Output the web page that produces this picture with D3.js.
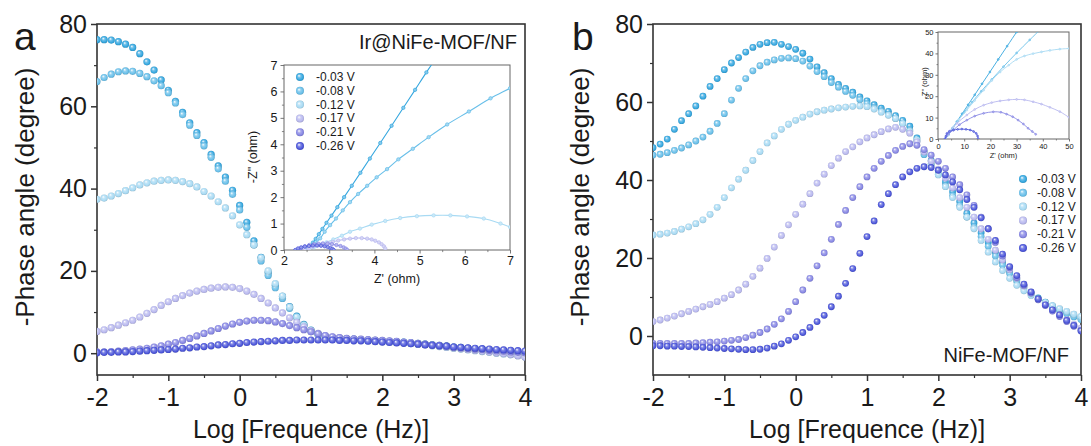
<!DOCTYPE html>
<html>
<head>
<meta charset="utf-8">
<script src="https://cdn.jsdelivr.net/npm/d3@7"></script>
<style>
  body { margin: 0; background: #fff; }
  text { font-family: "Liberation Sans", Arial, sans-serif; fill: #1a1a1a; }
</style>
</head>
<body>
<svg id="chart" width="1091" height="446"></svg>
<script>
// log10 frequency grid (Hz)
var logF = [-2.0,-1.9,-1.8,-1.7,-1.6,-1.5,-1.4,-1.3,-1.2,-1.1,
  -1.0,-0.9,-0.8,-0.7,-0.6,-0.5,-0.4,-0.3,-0.2,-0.1,
  0.0,0.1,0.2,0.3,0.4,0.5,0.6,0.7,0.8,0.9,
  1.0,1.1,1.2,1.3,1.4,1.5,1.6,1.7,1.8,1.9,
  2.0,2.1,2.2,2.3,2.4,2.5,2.6,2.7,2.8,2.9,
  3.0,3.1,3.2,3.3,3.4,3.5,3.6,3.7,3.8,3.9,4.0];

var voltages = ["-0.03 V", "-0.08 V", "-0.12 V", "-0.17 V", "-0.21 V", "-0.26 V"];

// panel a : Ir@NiFe-MOF/NF, -phase angle
var phaseA_003 = [76.2,76.2,76.1,75.7,75.1,74.3,72.8,70.8,68.8,66.4, 63.9,61.2,58.5,56.0,53.6,51.2,48.3,45.5,42.8,39.6, 35.9,31.8,27.3,23.3,19.6,16.5,13.8,11.3,9.0,7.0, 5.6,4.7,4.1,3.8,3.6,3.5,3.4,3.3,3.2,3.1, 3.0,2.9,2.8,2.7,2.5,2.4,2.2,2.0,1.9,1.7, 1.5,1.4,1.2,1.1,1.0,0.8,0.7,0.5,0.4,0.2,0.1];
var phaseA_008 = [66.0,67.0,67.8,68.4,68.6,68.5,68.0,67.2,66.2,65.0, 63.3,60.8,58.0,55.4,52.9,50.4,47.6,44.8,41.8,38.6, 34.8,30.6,26.3,22.4,18.9,15.9,13.3,10.9,8.7,6.8, 5.4,4.5,4.0,3.7,3.5,3.4,3.3,3.2,3.1,3.0, 2.9,2.8,2.7,2.6,2.5,2.3,2.2,2.0,1.8,1.7, 1.5,1.3,1.2,1.0,0.9,0.7,0.6,0.4,0.3,0.1,0.0];
var phaseA_012 = [37.4,37.7,38.2,38.8,39.5,40.2,40.9,41.4,41.8,42.0, 42.1,42.0,41.7,41.2,40.4,39.3,38.2,36.8,35.3,33.4, 31.2,28.8,26.3,23.2,20.0,16.9,13.9,11.2,8.8,6.8, 5.3,4.4,3.9,3.6,3.4,3.3,3.2,3.1,3.0,2.9, 2.8,2.7,2.6,2.5,2.3,2.2,2.0,1.8,1.6,1.4, 1.2,1.0,0.8,0.6,0.4,0.2,0.0,-0.2,-0.4,-0.6,-0.9];
var phaseA_017 = [5.3,5.7,6.2,6.8,7.4,8.0,8.8,9.7,10.6,11.6, 12.5,13.3,14.0,14.6,15.1,15.5,15.8,16.0,16.1,16.0, 15.7,15.1,14.3,13.3,12.2,11.0,9.8,8.6,7.5,6.4, 5.5,4.8,4.3,3.9,3.7,3.5,3.4,3.3,3.2,3.1, 3.0,2.9,2.8,2.6,2.5,2.3,2.1,1.9,1.7,1.5, 1.3,1.1,0.9,0.7,0.5,0.3,0.1,-0.1,-0.3,-0.6,-0.9];
var phaseA_021 = [0.3,0.3,0.4,0.5,0.6,0.8,1.0,1.2,1.5,1.8, 2.2,2.6,3.1,3.6,4.2,4.8,5.4,6.0,6.6,7.1, 7.5,7.8,8.0,8.0,7.9,7.6,7.2,6.7,6.2,5.7, 5.2,4.7,4.3,4.0,3.8,3.6,3.5,3.4,3.3,3.2, 3.1,3.0,2.9,2.7,2.6,2.4,2.2,2.0,1.9,1.7, 1.5,1.3,1.2,1.0,0.9,0.7,0.6,0.5,0.3,0.2,0.1];
var phaseA_026 = [0.1,0.2,0.2,0.3,0.3,0.4,0.5,0.6,0.7,0.8, 0.9,1.0,1.2,1.3,1.5,1.6,1.8,2.0,2.1,2.3, 2.4,2.6,2.7,2.8,2.9,3.0,3.1,3.1,3.2,3.2, 3.2,3.2,3.2,3.2,3.1,3.1,3.0,3.0,2.9,2.8, 2.7,2.6,2.5,2.4,2.3,2.2,2.0,1.9,1.8,1.7, 1.5,1.4,1.3,1.2,1.1,1.0,0.9,0.8,0.7,0.6,0.5];

// panel b : NiFe-MOF/NF, -phase angle
var phaseB_003 = [48.3,49.2,50.5,53.0,55.2,57.0,59.0,61.5,64.0,66.0, 68.3,70.0,71.4,72.8,74.0,74.8,75.2,75.3,74.8,74.2, 73.5,72.5,71.0,69.0,67.5,66.0,64.5,63.5,62.5,61.3, 60.3,59.3,58.4,57.6,56.5,55.3,53.8,50.8,47.3,45.0, 42.5,39.5,37.0,34.5,31.5,29.0,26.5,24.0,21.5,19.0, 16.5,14.5,12.8,11.2,9.8,8.7,7.7,6.8,6.0,5.2,4.5];
var phaseB_008 = [46.4,46.6,47.0,47.6,48.2,49.0,50.0,51.0,52.5,54.5, 57.0,60.5,63.5,66.0,68.0,69.3,70.2,70.8,71.2,71.3, 71.1,70.5,69.2,67.8,66.5,65.0,63.8,62.7,61.7,60.6, 59.6,58.6,57.7,56.8,55.8,54.5,52.8,50.0,46.5,44.0, 41.5,38.5,36.0,33.5,30.5,28.0,25.5,23.0,20.5,18.2, 16.0,14.0,12.3,10.8,9.5,8.4,7.4,6.5,5.7,4.9,4.2];
var phaseB_012 = [25.9,26.1,26.4,26.8,27.4,28.0,28.8,29.8,31.2,33.0, 35.5,38.0,40.2,42.5,45.0,47.3,49.5,51.3,53.0,54.3, 55.3,56.1,56.9,57.5,57.9,58.2,58.5,58.7,58.9,59.0, 58.8,58.2,57.4,56.6,55.8,54.5,52.5,50.3,47.3,44.2, 41.3,38.3,35.5,33.0,30.5,27.5,24.5,21.5,19.0,16.8, 14.8,13.0,11.6,10.4,9.5,8.6,7.8,7.0,6.3,5.6,5.0];
var phaseB_017 = [3.7,4.1,4.6,5.1,5.7,6.3,6.9,7.5,8.1,8.8, 9.7,10.6,11.8,13.3,15.3,17.4,19.9,22.8,25.8,28.5, 31.2,33.8,36.5,39.2,41.5,43.7,45.6,47.3,48.5,49.8, 50.8,51.6,52.4,53.1,53.5,53.0,52.0,49.8,47.2,44.8, 42.8,40.5,38.0,35.5,33.0,30.5,27.5,24.8,22.0,19.5, 17.0,14.8,12.8,11.0,9.4,8.0,6.6,5.4,4.2,3.0,2.0];
var phaseB_021 = [-1.9,-1.9,-1.9,-1.9,-1.9,-1.9,-1.8,-1.7,-1.6,-1.5, -1.3,-1.1,-0.9,-0.4,0.2,0.9,1.8,3.0,4.4,6.3, 8.8,11.8,14.8,18.0,21.3,24.8,28.6,32.2,35.5,38.3, 40.8,43.0,44.8,46.3,47.6,48.6,49.3,48.9,47.8,46.4, 44.8,43.0,40.8,38.8,36.2,33.5,30.5,27.5,24.0,20.5, 17.5,15.0,13.0,11.0,9.3,7.8,6.4,5.0,3.7,2.5,1.5];
var phaseB_026 = [-2.5,-2.5,-2.6,-2.6,-2.7,-2.7,-2.8,-2.9,-3.0,-3.1, -3.2,-3.3,-3.4,-3.5,-3.5,-3.4,-3.1,-2.6,-2.0,-1.1, -0.2,0.9,2.2,3.7,5.3,7.5,10.2,13.5,17.3,21.2, 25.5,29.5,33.7,36.5,38.8,40.8,42.1,43.0,43.4,43.2, 42.5,41.3,39.5,37.5,35.0,33.0,30.3,27.5,24.5,21.0, 17.8,15.5,13.3,11.3,9.5,8.0,6.7,5.4,4.0,2.7,1.3];

// inset a : Nyquist, Z' and -Z'' (ohm)
var nyqA_re = [
  [2.52,2.58,2.64,2.70,2.77,2.85,2.94,3.05,3.18,3.33,3.50,3.69,3.90,4.13,4.38,4.64,4.90,5.15,5.42],
  [2.57,2.68,2.80,2.90,3.02,3.15,3.30,3.46,3.64,3.84,4.05,4.28,4.53,4.85,5.20,5.61,6.09,6.57,7.00,7.30],
  [2.55,2.66,2.80,2.94,3.09,3.28,3.46,3.68,3.94,4.24,4.57,4.94,5.31,5.68,6.05,6.42,6.79,7.00,7.20],
  [2.46,2.55,2.64,2.75,2.86,2.97,3.08,3.20,3.33,3.46,3.59,3.72,3.84,3.94,4.02,4.10,4.16,4.21,4.24],
  [2.30,2.38,2.46,2.56,2.66,2.76,2.86,2.96,3.06,3.16,3.25,3.32,3.37,3.40],
  [2.25,2.31,2.38,2.46,2.55,2.64,2.73,2.82,2.90,2.97,3.03,3.07,3.10]
];
var nyqA_im = [
  [0.05,0.15,0.28,0.42,0.60,0.80,1.03,1.30,1.62,2.00,2.43,2.92,3.46,4.05,4.70,5.38,6.06,6.72,7.40],
  [0.12,0.25,0.44,0.69,0.94,1.19,1.50,1.81,2.12,2.43,2.75,3.06,3.43,3.83,4.27,4.75,5.24,5.74,6.12,6.40],
  [0.03,0.10,0.19,0.29,0.40,0.54,0.69,0.81,0.96,1.10,1.21,1.28,1.31,1.31,1.27,1.19,1.00,0.87,0.72],
  [0.00,0.07,0.12,0.17,0.22,0.27,0.31,0.36,0.40,0.43,0.45,0.45,0.43,0.40,0.35,0.29,0.22,0.14,0.06],
  [0.00,0.08,0.14,0.19,0.22,0.24,0.25,0.24,0.22,0.19,0.15,0.10,0.05,0.00],
  [0.00,0.06,0.10,0.13,0.15,0.17,0.17,0.16,0.14,0.11,0.07,0.04,0.00]
];

// inset b : Nyquist, Z' and -Z'' (ohm)
var nyqB_re = [
  [2.8,4,5.5,7.2,9.2,11.5,14,16.8,19.8,23,26.4,30,31],
  [2.8,4,5.5,7.5,10,13,16.5,20.5,25,30,35,38.5],
  [2.8,4,5.9,8,11,14,17.4,20.5,23.7,27,30,33,36.3,39.5,42.7,46.5,50],
  [2.8,4.5,7.2,11,14,17.4,20.5,23.7,27,30,33,36.3,39.5,42.7,46.5,50],
  [2.8,4,5.9,8.2,11,14,17.4,21.1,24,26.2,28.5,30.6,32.6,34.4,36,37.3],
  [2.6,3,3.4,4.3,5.9,7.5,9.1,10.7,12.3,13.6,14.6,15.1,15.3]
];
var nyqB_im = [
  [0,2.2,5,8.1,11.8,16,20.6,25.8,31.3,37.2,43.4,50,51.9],
  [0,2.1,4.8,8.3,12.5,17.2,22.3,27.8,33.8,40.2,46.3,50.5],
  [0,1.8,5.7,9.2,13.5,18,22.8,27.3,31.3,34.5,37.2,38.8,39.9,40.7,41.4,42,42.3],
  [0,3.8,7.3,11.2,13.8,15.8,17,17.8,18.3,18.5,18.3,17.4,16.3,14.8,12.8,10.1],
  [0,2.3,4.2,6.7,8.8,10.7,12,12.7,12.5,11.6,10.4,8.8,7,5,3.5,2.2],
  [0,1.3,2.6,3.5,4.2,4.5,4.65,4.5,4.2,3.5,2.6,1.4,0.2]
];

var colors = ["#35a7df", "#68bfe9", "#a8daf3", "#b9b9ef", "#8787e4", "#4c56da"];

var svg = d3.select("#chart");
var defs = svg.append("defs");

// shaded ball markers
colors.forEach(function(c, i) {
  var g = defs.append("radialGradient").attr("id", "ball" + i)
    .attr("cx", "50%").attr("cy", "50%").attr("r", "55%")
    .attr("fx", "36%").attr("fy", "32%");
  g.append("stop").attr("offset", "0%").attr("stop-color", "#ffffff");
  g.append("stop").attr("offset", "35%").attr("stop-color", d3.interpolateRgb(c, "#fff")(0.3));
  g.append("stop").attr("offset", "75%").attr("stop-color", c);
  g.append("stop").attr("offset", "100%").attr("stop-color", d3.color(c).darker(0.6));
});

function styleAxis(sel, col, w) {
  sel.select(".domain").remove();
  sel.selectAll(".tick line").attr("stroke", col).attr("stroke-width", w);
  sel.selectAll("text").style("fill", "#1a1a1a");
}

function drawPanel(p) {
  var x = d3.scaleLinear().domain([-2, 4]).range([p.left, p.right]);
  var y = d3.scaleLinear().domain(p.yDomain).range([p.bottom, p.top]);
  var g = svg.append("g");

  defs.append("clipPath").attr("id", "clip" + p.id).append("rect")
    .attr("x", p.left).attr("y", p.top)
    .attr("width", p.right - p.left).attr("height", p.bottom - p.top);

  // ticks
  var xa = g.append("g").attr("transform", "translate(0," + p.bottom + ")")
    .call(d3.axisBottom(x).tickValues([-2, -1, 0, 1, 2, 3, 4]).tickSize(6).tickPadding(7)
      .tickFormat(function(d) { return String(d); }));
  xa.selectAll("text").attr("font-size", 25).attr("font-family", "Liberation Sans, Arial, sans-serif");
  styleAxis(xa, "#333", 1.5);
  var xm = g.append("g").attr("transform", "translate(0," + p.bottom + ")")
    .call(d3.axisBottom(x).tickValues([-1.5, -0.5, 0.5, 1.5, 2.5, 3.5]).tickSize(3).tickFormat(""));
  styleAxis(xm, "#333", 1.2);

  var ya = g.append("g").attr("transform", "translate(" + p.left + ",0)")
    .call(d3.axisLeft(y).tickValues([0, 20, 40, 60, 80]).tickSize(6).tickPadding(4)
      .tickFormat(function(d) { return String(d); }));
  ya.selectAll("text").attr("font-size", 25).attr("font-family", "Liberation Sans, Arial, sans-serif");
  styleAxis(ya, "#333", 1.5);
  var ym = g.append("g").attr("transform", "translate(" + p.left + ",0)")
    .call(d3.axisLeft(y).tickValues([10, 30, 50, 70]).tickSize(3).tickFormat(""));
  styleAxis(ym, "#333", 1.2);

  // frame
  g.append("rect").attr("x", p.left).attr("y", p.top)
    .attr("width", p.right - p.left).attr("height", p.bottom - p.top)
    .attr("fill", "none").attr("stroke", "#333").attr("stroke-width", 1.6);

  // data balls
  var pts = g.append("g").attr("clip-path", "url(#clip" + p.id + ")");
  p.series.forEach(function(vals, i) {
    pts.append("g").selectAll("circle").data(vals).join("circle")
      .attr("cx", function(d, j) { return x(logF[j]); })
      .attr("cy", function(d) { return y(d); })
      .attr("r", p.r)
      .attr("fill", "url(#ball" + i + ")");
  });

  // titles
  g.append("text").attr("x", (p.left + p.right) / 2).attr("y", 438)
    .attr("text-anchor", "middle").attr("font-size", 25)
    .text("Log [Frequence (Hz)]");
  g.append("text").attr("transform", "translate(" + p.yTitleX + ",197) rotate(-90)")
    .attr("text-anchor", "middle").attr("dominant-baseline", "central").attr("font-size", 26)
    .text("-Phase angle (degree)");
  g.append("text").attr("x", p.letterX).attr("y", 50).attr("font-size", 39).text(p.letter);
  g.append("text").attr("x", p.nameX).attr("y", p.nameY).attr("text-anchor", "end")
    .attr("font-size", 20).text(p.name);
}

function drawInset(q) {
  var x = d3.scaleLinear().domain(q.xDomain).range([q.left, q.right]);
  var y = d3.scaleLinear().domain(q.yDomain).range([q.bottom, q.top]);
  var g = svg.append("g");
  defs.append("clipPath").attr("id", "iclip" + q.id).append("rect")
    .attr("x", q.left).attr("y", q.top)
    .attr("width", q.right - q.left).attr("height", q.bottom - q.top);

  var xa = g.append("g").attr("transform", "translate(0," + q.bottom + ")")
    .call(d3.axisBottom(x).tickValues(q.xTicks).tickSize(q.tick).tickPadding(q.pad)
      .tickFormat(function(d) { return String(d); }));
  xa.selectAll("text").attr("font-size", q.fs).attr("font-family", "Liberation Sans, Arial, sans-serif");
  styleAxis(xa, "#555", 0.8);
  var ya = g.append("g").attr("transform", "translate(" + q.left + ",0)")
    .call(d3.axisLeft(y).tickValues(q.yTicks).tickSize(q.tick).tickPadding(q.pad)
      .tickFormat(function(d) { return String(d); }));
  ya.selectAll("text").attr("font-size", q.fs).attr("font-family", "Liberation Sans, Arial, sans-serif");
  styleAxis(ya, "#555", 0.8);
  var xm = g.append("g").attr("transform", "translate(0," + q.bottom + ")")
    .call(d3.axisBottom(x).tickValues(q.xMinor).tickSize(q.tick * 0.6).tickFormat(""));
  styleAxis(xm, "#555", 0.7);
  var ym = g.append("g").attr("transform", "translate(" + q.left + ",0)")
    .call(d3.axisLeft(y).tickValues(q.yMinor).tickSize(q.tick * 0.6).tickFormat(""));
  styleAxis(ym, "#555", 0.7);

  g.append("rect").attr("x", q.left).attr("y", q.top)
    .attr("width", q.right - q.left).attr("height", q.bottom - q.top)
    .attr("fill", "none").attr("stroke", "#666").attr("stroke-width", 1);

  var line = d3.line().curve(d3.curveCatmullRom)
    .x(function(d) { return x(d[0]); }).y(function(d) { return y(d[1]); });
  var pg = g.append("g").attr("clip-path", "url(#iclip" + q.id + ")");
  q.re.forEach(function(re, i) {
    var pts = re.map(function(v, j) { return [v, q.im[i][j]]; });
    pg.append("path").datum(pts).attr("d", line)
      .attr("fill", "none").attr("stroke", colors[i]).attr("stroke-width", q.lw);
    pg.append("g").selectAll("circle").data(pts).join("circle")
      .attr("cx", function(d) { return x(d[0]); })
      .attr("cy", function(d) { return y(d[1]); })
      .attr("r", q.mr)
      .attr("fill", d3.interpolateRgb(colors[i], "#fff")(0.4))
      .attr("stroke", colors[i]).attr("stroke-width", 0.7);
  });

  g.append("text").attr("x", (q.left + q.right) / 2).attr("y", q.xTitleY)
    .attr("text-anchor", "middle").attr("font-size", q.tfs).text("Z' (ohm)");
  g.append("text").attr("transform", "translate(" + q.yTitleX + "," + q.yTitleY + ") rotate(-90)")
    .attr("text-anchor", "middle").attr("dominant-baseline", "central")
    .attr("font-size", q.tfs).text("-Z\" (ohm)");
}

function drawLegend(l) {
  var g = svg.append("g");
  voltages.forEach(function(v, i) {
    var yy = l.y + i * l.dy;
    g.append("circle").attr("cx", l.x).attr("cy", yy).attr("r", 4)
      .attr("fill", "url(#ball" + i + ")");
    g.append("text").attr("x", l.tx).attr("y", yy).attr("dominant-baseline", "central")
      .attr("font-size", 12).text(v);
  });
}

drawPanel({
  id: "a", left: 97, right: 525, top: 24, bottom: 375, yDomain: [-5.3, 80], r: 3.6,
  series: [phaseA_003, phaseA_008, phaseA_012, phaseA_017, phaseA_021, phaseA_026],
  yTitleX: 25, letter: "a", letterX: 14, name: "Ir@NiFe-MOF/NF", nameX: 517, nameY: 49
});
drawPanel({
  id: "b", left: 653, right: 1081, top: 24, bottom: 375, yDomain: [-10, 80], r: 3.4,
  series: [phaseB_003, phaseB_008, phaseB_012, phaseB_017, phaseB_021, phaseB_026],
  yTitleX: 580, letter: "b", letterX: 572, name: "NiFe-MOF/NF", nameX: 1069, nameY: 362
});

drawInset({
  id: "a", left: 284, right: 510, top: 65, bottom: 250,
  xDomain: [2, 7], yDomain: [0, 7],
  xTicks: [2, 3, 4, 5, 6, 7], yTicks: [0, 1, 2, 3, 4, 5, 6, 7],
  xMinor: [2.5, 3.5, 4.5, 5.5, 6.5], yMinor: [0.5, 1.5, 2.5, 3.5, 4.5, 5.5, 6.5],
  tick: 3.5, pad: 3, fs: 12.5, tfs: 12.5,
  xTitleY: 283, yTitleX: 253, yTitleY: 157,
  re: nyqA_re, im: nyqA_im, lw: 1.1, mr: 1.7
});
drawInset({
  id: "b", left: 938, right: 1069, top: 32, bottom: 139,
  xDomain: [0, 50], yDomain: [0, 50],
  xTicks: [0, 10, 20, 30, 40, 50], yTicks: [0, 10, 20, 30, 40, 50],
  xMinor: [5, 15, 25, 35, 45], yMinor: [5, 15, 25, 35, 45],
  tick: 2.5, pad: 2, fs: 7.5, tfs: 7.5,
  xTitleY: 158, yTitleX: 924, yTitleY: 83,
  re: nyqB_re, im: nyqB_im, lw: 0.9, mr: 0.9
});

drawLegend({ x: 300, y: 77, dy: 13.8, tx: 316 });
drawLegend({ x: 1023, y: 179, dy: 13.8, tx: 1037 });
</script>
</body>
</html>
